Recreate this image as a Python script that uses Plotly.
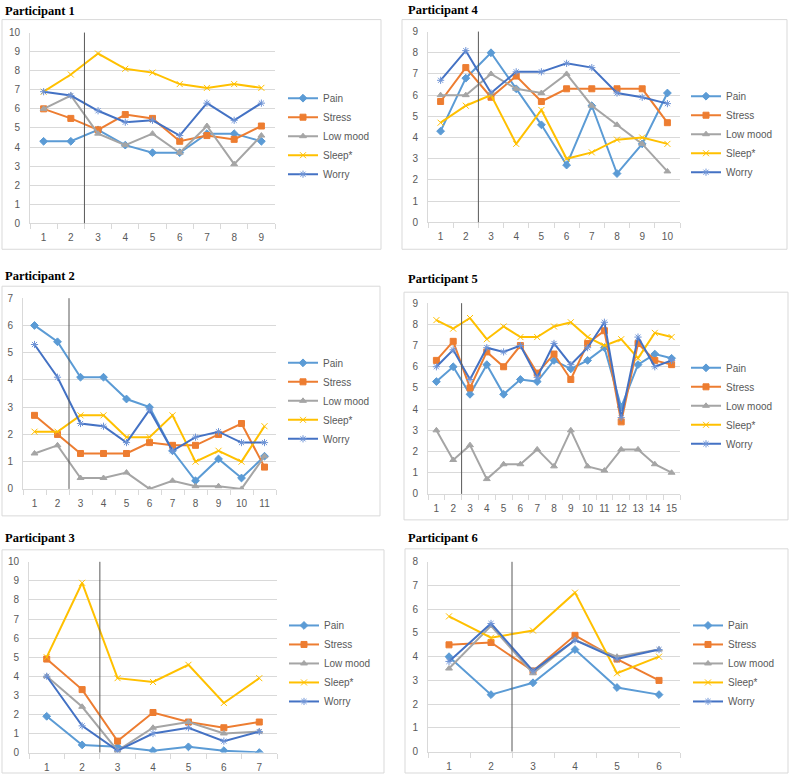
import plotly.graph_objects as go

series_names = ["Pain", "Stress", "Low mood", "Sleep*", "Worry"]

# Participant 1 (sessions 1-9)
p1_pain = [4.3, 4.3, 4.9, 4.1, 3.7, 3.7, 4.7, 4.7, 4.3]
p1_stress = [6.0, 5.5, 4.9, 5.7, 5.5, 4.3, 4.6, 4.4, 5.1]
p1_lowmood = [6.0, 6.7, 4.7, 4.1, 4.7, 3.7, 5.1, 3.1, 4.6]
p1_sleep = [6.9, 7.8, 8.9, 8.1, 7.9, 7.3, 7.1, 7.3, 7.1]
p1_worry = [6.9, 6.7, 5.9, 5.3, 5.4, 4.6, 6.3, 5.4, 6.3]

# Participant 2 (sessions 1-11)
p2_pain = [6.0, 5.4, 4.1, 4.1, 3.3, 3.0, 1.4, 0.3, 1.1, 0.4, 1.2]
p2_stress = [2.7, 2.0, 1.3, 1.3, 1.3, 1.7, 1.6, 1.6, 2.0, 2.4, 0.8]
p2_lowmood = [1.3, 1.6, 0.4, 0.4, 0.6, 0.0, 0.3, 0.1, 0.1, 0.0, 1.2]
p2_sleep = [2.1, 2.1, 2.7, 2.7, 1.9, 1.9, 2.7, 1.0, 1.4, 1.0, 2.3]
p2_worry = [5.3, 4.1, 2.4, 2.3, 1.7, 2.9, 1.4, 1.9, 2.1, 1.7, 1.7]

# Participant 3 (sessions 1-7)
p3_pain = [1.9, 0.4, 0.3, 0.1, 0.3, 0.1, 0.0]
p3_stress = [4.9, 3.3, 0.6, 2.1, 1.6, 1.3, 1.6]
p3_lowmood = [4.0, 2.4, 0.1, 1.3, 1.6, 1.0, 1.1]
p3_sleep = [5.0, 8.9, 3.9, 3.7, 4.6, 2.6, 3.9]
p3_worry = [4.0, 1.4, 0.1, 1.0, 1.3, 0.6, 1.1]

# Participant 4 (sessions 1-10)
p4_pain = [4.3, 6.8, 8.0, 6.3, 4.6, 2.7, 5.5, 2.3, 3.7, 6.1]
p4_stress = [5.7, 7.3, 5.9, 6.9, 5.7, 6.3, 6.3, 6.3, 6.3, 4.7]
p4_lowmood = [6.0, 6.0, 7.0, 6.3, 6.1, 7.0, 5.5, 4.6, 3.7, 2.4]
p4_sleep = [4.7, 5.5, 6.0, 3.7, 5.3, 3.0, 3.3, 3.9, 4.0, 3.7]
p4_worry = [6.7, 8.1, 6.1, 7.1, 7.1, 7.5, 7.3, 6.1, 5.9, 5.6]

# Participant 5 (sessions 1-15)
p5_pain = [5.3, 6.0, 4.7, 6.1, 4.7, 5.4, 5.3, 6.3, 5.9, 6.3, 6.9, 4.1, 6.1, 6.6, 6.4]
p5_stress = [6.3, 7.2, 5.0, 6.7, 6.0, 7.0, 5.7, 6.6, 5.4, 7.1, 7.7, 3.4, 7.1, 6.3, 6.1]
p5_lowmood = [3.0, 1.6, 2.3, 0.7, 1.4, 1.4, 2.1, 1.3, 3.0, 1.3, 1.1, 2.1, 2.1, 1.4, 1.0]
p5_sleep = [8.2, 7.8, 8.3, 7.3, 7.9, 7.4, 7.4, 7.9, 8.1, 7.4, 7.0, 7.3, 6.4, 7.6, 7.4]
p5_worry = [6.0, 6.8, 5.4, 6.9, 6.7, 7.0, 5.5, 7.1, 6.1, 6.9, 8.1, 3.6, 7.4, 6.0, 6.3]

# Participant 6 (sessions 1-6)
p6_pain = [4.0, 2.4, 2.9, 4.3, 2.7, 2.4]
p6_stress = [4.5, 4.6, 3.4, 4.9, 3.9, 3.0]
p6_lowmood = [3.5, 5.3, 3.3, 4.7, 4.0, 4.3]
p6_sleep = [5.7, 4.8, 5.1, 6.7, 3.3, 4.0]
p6_worry = [3.8, 5.4, 3.4, 4.7, 3.9, 4.3]

y_max = [10, 7, 10, 9, 9, 8]          # participants 1..6
phase_change = 2.5                    # vertical divider between sessions 2 and 3

data = {
    1: [p1_pain, p1_stress, p1_lowmood, p1_sleep, p1_worry],
    2: [p2_pain, p2_stress, p2_lowmood, p2_sleep, p2_worry],
    3: [p3_pain, p3_stress, p3_lowmood, p3_sleep, p3_worry],
    4: [p4_pain, p4_stress, p4_lowmood, p4_sleep, p4_worry],
    5: [p5_pain, p5_stress, p5_lowmood, p5_sleep, p5_worry],
    6: [p6_pain, p6_stress, p6_lowmood, p6_sleep, p6_worry],
}

# ---------------- styling / layout (pixels) ----------------
W, H = 790, 780
def px(x): return x / W
def py(y):
    y2 = min((y - 4.4) / 0.986, H - 1)
    return 1 - y2 / H

line_colors = ["#5B9BD5", "#ED7D31", "#A5A5A5", "#FFC000", "#4472C4"]
marker_syms = ["diamond", "square", "triangle-up", "x-thin-open", "asterisk-open"]
marker_cols = ["#5B9BD5", "#ED7D31", "#A5A5A5", "#FFC000", "#6F94D6"]
marker_size = [6, 6, 6, 6, 6]

# panel geometry: plot area (l, r, top, bottom), box (l, t, r, b), title pos, legend first-item pos
panels = {
    1: dict(plot=(30, 275, 31, 222), box=(2, 18, 381, 248), title=(3, 9), leg=(283, 97)),
    4: dict(plot=(428, 680, 30, 221), box=(402, 18, 787, 248), title=(406, 8), leg=(686, 95)),
    2: dict(plot=(23, 276, 297, 488), box=(2, 285, 380, 515), title=(3, 275), leg=(283, 362)),
    5: dict(plot=(428, 680, 302, 493), box=(404, 291, 788, 519), title=(406, 278), leg=(686, 367)),
    3: dict(plot=(29, 277, 561, 752), box=(2, 549, 384, 778), title=(3, 537), leg=(284, 625)),
    6: dict(plot=(428, 680, 561, 751), box=(405, 548, 788, 778), title=(406, 537), leg=(688, 625)),
}

tick_font = dict(family="Liberation Sans, Arial, sans-serif", size=10, color="#595959")
grid_col = "#D9D9D9"

fig = go.Figure()
shapes = []
annotations = []
layout_axes = {}
legends = {}

for k in range(1, 7):
    g = panels[k]
    vals = data[k]
    n = len(vals[0])
    sessions = list(range(1, n + 1))
    xa = "x" if k == 1 else f"x{k}"
    ya = "y" if k == 1 else f"y{k}"
    lg = "legend" if k == 1 else f"legend{k}"
    for i, name in enumerate(series_names):
        fig.add_trace(go.Scatter(
            x=sessions, y=vals[i], name=name, mode="lines+markers",
            line=dict(color=line_colors[i], width=2),
            marker=dict(symbol=marker_syms[i], size=marker_size[i], color=marker_cols[i],
                        line=dict(color=marker_cols[i], width=1)),
            xaxis=xa, yaxis=ya, legend=lg, showlegend=True,
        ))
    l, r, t, b = g["plot"]
    kx = "xaxis" if k == 1 else f"xaxis{k}"
    ky = "yaxis" if k == 1 else f"yaxis{k}"
    layout_axes[kx] = dict(
        domain=[px(l), px(r)], range=[0.5, n + 0.5], anchor=ya,
        tickmode="array", tickvals=sessions, ticktext=[str(s) for s in sessions],
        ticks="", showgrid=False, zeroline=False,
        showline=True, linecolor=grid_col, linewidth=1,
        tickfont=tick_font, ticklabelstandoff=5,
        minor=dict(tickmode="array", tickvals=[s + 0.5 for s in range(0, n + 1)],
                   ticks="outside", ticklen=5, tickcolor=grid_col, tickwidth=1, showgrid=False),
    )
    layout_axes[ky] = dict(
        domain=[py(b), py(t)], range=[0, y_max[k - 1]], anchor=xa,
        dtick=1, tick0=0, showgrid=True, gridcolor=grid_col, gridwidth=1,
        zeroline=False, showline=True, linecolor=grid_col, linewidth=1,
        ticks="", tickfont=tick_font, ticklabelstandoff=7,
    )
    bl, bt, br, bb = g["box"]
    shapes.append(dict(type="rect", xref="paper", yref="paper",
                       x0=px(bl), x1=px(br), y0=py(bb), y1=py(bt),
                       line=dict(color=grid_col, width=1), fillcolor="rgba(0,0,0,0)", layer="below"))
    shapes.append(dict(type="line", xref=xa, yref=f"{ya} domain",
                       x0=phase_change, x1=phase_change, y0=0, y1=1,
                       line=dict(color="#595959", width=1)))
    tx, ty = g["title"]
    annotations.append(dict(text=f"<b>Participant {k}</b>", xref="paper", yref="paper",
                            x=px(tx), y=py(ty), xanchor="left", yanchor="middle", showarrow=False,
                            font=dict(family="Liberation Serif, Times New Roman, serif", size=12.5, color="#000000")))
    lx, ly = g["leg"]
    legends[lg] = dict(x=px(lx), y=py(ly) + 15 / H, xanchor="left", yanchor="top",
                       bgcolor="rgba(0,0,0,0)", borderwidth=0,
                       font=dict(family="Liberation Sans, Arial, sans-serif", size=10, color="#595959"),
                       tracegroupgap=0, itemclick=False, itemdoubleclick=False)

fig.update_layout(
    width=W, height=H, margin=dict(l=0, r=0, t=0, b=0),
    paper_bgcolor="white", plot_bgcolor="white",
    shapes=shapes, annotations=annotations, showlegend=True,
    **layout_axes, **legends,
)

page_fix = (
    "document.documentElement.style.margin='0';"
    "document.documentElement.style.padding='0';"
    "document.documentElement.style.overflow='hidden';"
    "document.body.style.margin='0';document.body.style.padding='0';"
    "document.body.style.overflow='hidden';"
    "var gd=document.getElementById('{plot_id}');"
    "gd.style.position='fixed';gd.style.left='0px';gd.style.top='0px';"
)

fig.write_html("out.html", config={"displayModeBar": False}, post_script=page_fix)
